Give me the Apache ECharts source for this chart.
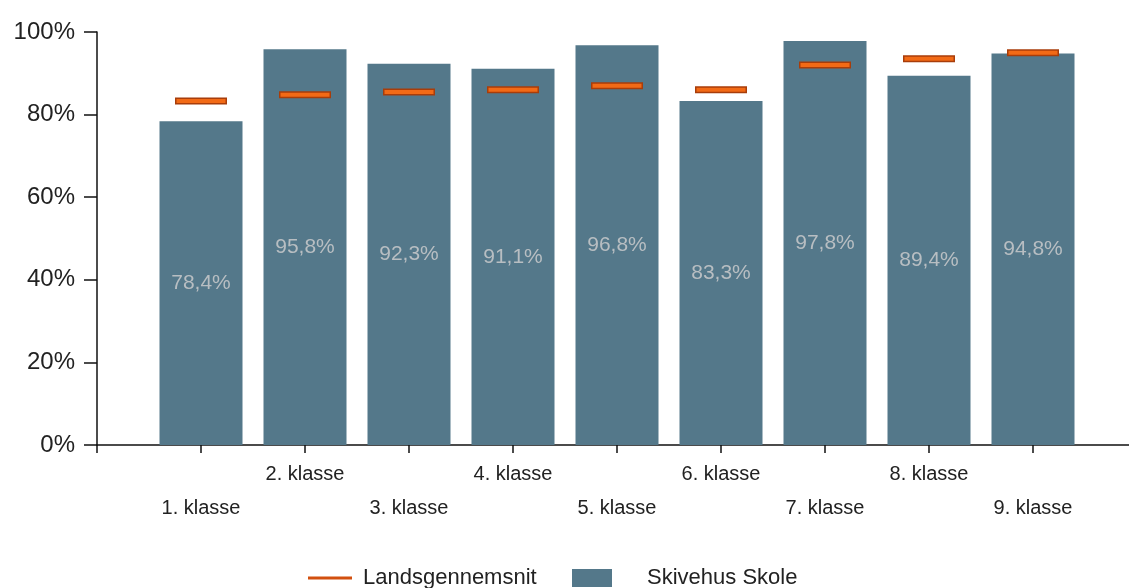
<!DOCTYPE html>
<html>
<head>
<meta charset="utf-8">
<script src="https://cdn.jsdelivr.net/npm/echarts@6/dist/echarts.min.js"></script>
<style>
  html, body { margin: 0; padding: 0; background: #fff; }
  #chart { width: 1129px; height: 588px; }
</style>
</head>
<body>
<div id="chart"></div>
<script>
// empty slots at both ends so the classes sit on the ticks
const categories = ["", "1. klasse", "2. klasse", "3. klasse", "4. klasse", "5. klasse",
  "6. klasse", "7. klasse", "8. klasse", "9. klasse", ""];
const skoleValues = ["-", 78.4, 95.8, 92.3, 91.1, 96.8, 83.3, 97.8, 89.4, 94.8, "-"];
const landsValues = ["-", 83.3, 84.8, 85.5, 86.0, 87.0, 86.0, 92.0, 93.5, 95.0, "-"];
const yTicks = [0, 20, 40, 60, 80, 100];

const font = "'Liberation Sans', Arial, sans-serif";
const chart = echarts.init(document.getElementById("chart"));

chart.setOption({
  animation: false,
  grid: { left: 97, top: 32, width: 1040, height: 413, containLabel: false, outerBoundsMode: "none" },
  xAxis: {
    type: "category",
    data: categories,
    boundaryGap: false,
    axisLine: { lineStyle: { color: "#111", width: 1.5 } },
    axisTick: { interval: 0, length: 8, lineStyle: { color: "#111", width: 1.5 } },
    axisLabel: {
      interval: 0,
      margin: 12,
      fontFamily: font,
      fontSize: 20,
      color: "#222",
      lineHeight: 34,
      // odd classes drop to the second row
      formatter: function (v, i) { return i % 2 === 1 ? "\n" + v : v; }
    },
    splitLine: { show: false }
  },
  yAxis: {
    type: "value",
    min: yTicks[0],
    max: yTicks[yTicks.length - 1],
    interval: 20,
    axisLine: { show: true, lineStyle: { color: "#111", width: 1.5 } },
    axisTick: { show: true, length: 13, lineStyle: { color: "#111", width: 1.5 } },
    axisLabel: {
      margin: 22,
      fontFamily: font,
      fontSize: 24,
      color: "#222",
      formatter: "{value}%"
    },
    splitLine: { show: false }
  },
  legend: [
    {
      left: 308, top: 567, padding: 0,
      itemWidth: 44, itemHeight: 3, itemGap: 0,
      textStyle: { fontFamily: font, fontSize: 22, color: "#222", padding: [0, 0, 0, 6] },
      data: [{ name: "Landsgennemsnit", icon: "rect", itemStyle: { color: "#d2500f", borderWidth: 0, opacity: 1 } }]
    },
    {
      left: 572, top: 567, padding: 0,
      itemWidth: 40, itemHeight: 18, itemGap: 0,
      textStyle: { fontFamily: font, fontSize: 22, color: "#222", padding: [0, 0, 0, 30] },
      data: [{ name: "Skivehus Skole", icon: "rect" }]
    }
  ],
  series: [
    {
      name: "Skivehus Skole",
      type: "bar",
      data: skoleValues,
      barWidth: 83,
      itemStyle: { color: "#54788a" },
      label: {
        show: true,
        position: "inside",
        fontFamily: font,
        fontSize: 21,
        color: "#b8bec2",
        formatter: function (p) { return p.value.toFixed(1).replace(".", ",") + "%"; }
      },
      z: 2
    },
    {
      // dark outline of the average marker
      name: "Landsgennemsnit",
      type: "scatter",
      data: landsValues,
      symbol: "rect",
      symbolSize: [52, 7],
      itemStyle: { color: "#a83d0a", opacity: 1 },
      emphasis: { disabled: true },
      z: 3
    },
    {
      name: "Landsgennemsnit fill",
      type: "scatter",
      data: landsValues,
      symbol: "rect",
      symbolSize: [49, 4],
      itemStyle: { color: "#f26a16", opacity: 1 },
      emphasis: { disabled: true },
      z: 4
    }
  ]
});
</script>
</body>
</html>
